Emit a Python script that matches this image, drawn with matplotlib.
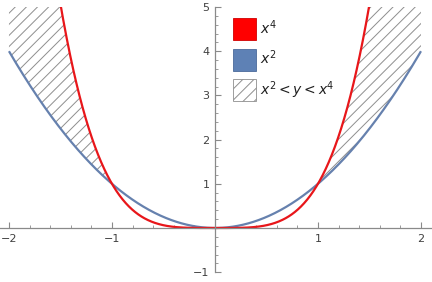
import numpy as np
import matplotlib
matplotlib.use("Agg")
import matplotlib.pyplot as plt
from matplotlib.patches import Patch
from matplotlib.ticker import FixedLocator

x = np.linspace(-2, 2, 801)
y4 = x ** 4
y2 = x ** 2
xticks = [-2, -1, 1, 2]
yticks = [-1, 1, 2, 3, 4, 5]
labels = ["$x^4$", "$x^2$", "$x^2 < y < x^4$"]

red = "#E8161A"
blue = "#6681AE"
axcol = "#8A8A8A"
txtcol = "#404040"

plt.rcParams["hatch.linewidth"] = 0.7

fig = plt.figure(figsize=(4.32, 2.82), dpi=100)
ytop = 5.0
ybot = -1.222
ax = fig.add_axes([0, 0, 1, 275 / 282])
ax.set_xlim(-2.087, 2.107)
ax.set_ylim(ybot, ytop)

upper = np.minimum(y4, ytop)
mask = np.abs(x) >= 1
ax.fill_between(x, y2, upper, where=mask, facecolor="none", edgecolor="#8E8E8E",
                hatch="///", linewidth=0, interpolate=True)
ax.plot(x, y2, color=blue, lw=1.6, solid_capstyle="butt")
ax.plot(x, y4, color=red, lw=1.6, solid_capstyle="butt")

for s in ["top", "right"]:
    ax.spines[s].set_visible(False)
ax.spines["left"].set_position(("data", 0))
ax.spines["bottom"].set_position(("data", 0))
ax.spines["left"].set_bounds(-1, ytop)
for s in ["left", "bottom"]:
    ax.spines[s].set_color(axcol)
    ax.spines[s].set_linewidth(0.9)

ax.xaxis.set_major_locator(FixedLocator(xticks))
ax.yaxis.set_major_locator(FixedLocator(yticks))
ax.xaxis.set_minor_locator(FixedLocator([v / 5 for v in range(-10, 11) if v % 5 != 0]))
ax.yaxis.set_minor_locator(FixedLocator([v / 5 for v in range(-5, 26) if v % 5 != 0]))
ax.set_xticklabels(["\u22122", "\u22121", "1", "2"])
ax.set_yticklabels(["\u22121", "1", "2", "3", "4", "5"])
ax.tick_params(which="major", direction="in", length=4, width=0.8, color=axcol,
               labelsize=8, labelcolor=txtcol, pad=4)
ax.tick_params(which="minor", direction="in", length=2.2, width=0.6, color=axcol)
ax.patch.set_alpha(0)

handles = [Patch(facecolor="#FF0000", edgecolor="#D00000", lw=0.6),
           Patch(facecolor="#5E81B5", edgecolor="#4A6A9A", lw=0.6),
           Patch(facecolor="white", edgecolor="#8E8E8E", hatch="///", lw=0.6)]
fs = 10
px = fs * 100 / 72
leg = fig.legend(handles, labels, loc="upper left", bbox_to_anchor=(233 / 432, 1 - 18 / 282),
                 frameon=False, fontsize=fs, handlelength=22.5 / px, handleheight=1.25 * 22.5 / px,
                 labelspacing=8.5 / px, handletextpad=5 / px, borderpad=0, borderaxespad=0)
for t in leg.get_texts():
    t.set_color("#202020")

fig.savefig("out.png", dpi=100)
